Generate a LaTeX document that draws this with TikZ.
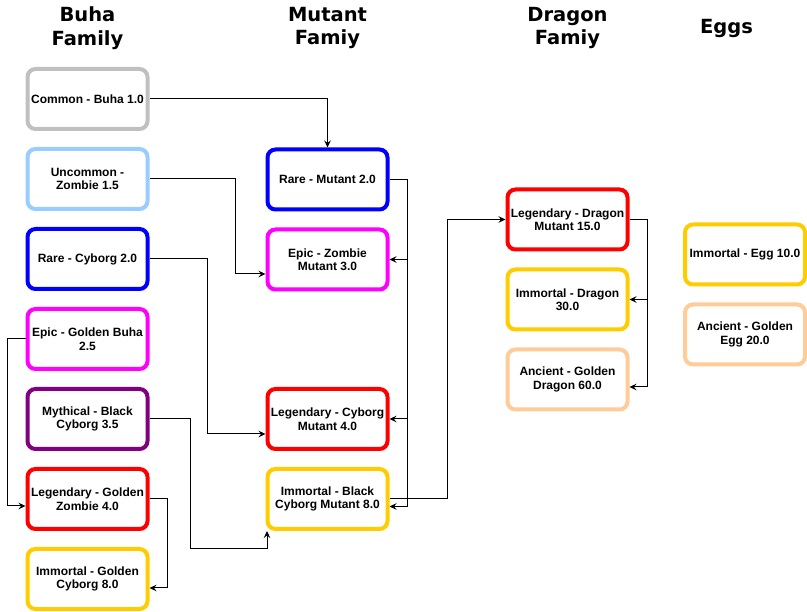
\documentclass[tikz,border=0pt]{standalone}
\usepackage{fontspec}
\setmainfont{Liberation Sans}
\newfontfamily\titlefont{DejaVu Sans}
\usetikzlibrary{arrows.meta,calc}
\definecolor{cgray}{HTML}{C0C0C0}
\definecolor{clblue}{HTML}{99CCFF}
\definecolor{cblue}{HTML}{0000FF}
\definecolor{cmag}{HTML}{FF00FF}
\definecolor{cpurp}{HTML}{800080}
\definecolor{cred}{HTML}{FF0000}
\definecolor{cgold}{HTML}{FFCC00}
\definecolor{cpeach}{HTML}{FFCC99}
\tikzset{
  card/.style={draw=#1, line width=4pt, rounded corners=8pt, fill=white,
    minimum width=120pt, minimum height=60pt, align=center, inner sep=1pt,
    font=\fontsize{12pt}{13.5pt}\selectfont\bfseries},
  ttl/.style={align=center, font=\titlefont\fontsize{19.5pt}{24pt}\selectfont\bfseries},
  arr/.style={draw=black, line width=1pt, -{Stealth[length=7pt,width=6.5pt,inset=2.5pt]}},
  plain/.style={draw=black, line width=1pt}
}
\begin{document}
\begin{tikzpicture}[x=1pt,y=-1pt]
\useasboundingbox (0,0) rectangle (807,612);
% titles
\node[ttl] (t1) at (87.5,28) {Buha\\Family};
\node[ttl] (t2) at (327.5,28) {Mutant\\Famiy};
\node[ttl] (t3) at (567.5,28) {Dragon\\Famiy};
\node[ttl] (t4) at (726.5,29) {Eggs};
% Buha family
\node[card=cgray] (common) at (87.5,99) {Common - Buha 1.0};
\node[card=clblue] (uncommon) at (87.5,179) {Uncommon -\\Zombie 1.5};
\node[card=cblue] (rarecy) at (87.5,259) {Rare - Cyborg 2.0};
\node[card=cmag] (epicbuha) at (87.5,339) {Epic - Golden Buha\\2.5};
\node[card=cpurp] (mythical) at (87.5,419) {Mythical - Black\\Cyborg 3.5};
\node[card=cred] (leggz) at (87.5,499) {Legendary - Golden\\Zombie 4.0};
\node[card=cgold] (immgc) at (87.5,579) {Immortal - Golden\\Cyborg 8.0};
% Mutant family
\node[card=cblue] (raremut) at (327.5,179.5) {Rare - Mutant 2.0};
\node[card=cmag] (epicmut) at (327.5,259.5) {Epic - Zombie\\Mutant 3.0};
\node[card=cred] (legmut) at (327.5,419) {Legendary - Cyborg\\Mutant 4.0};
\node[card=cgold] (immmut) at (327.5,499) {Immortal - Black\\Cyborg Mutant 8.0};
% Dragon family
\node[card=cred] (legdm) at (567.5,219.5) {Legendary - Dragon\\Mutant 15.0};
\node[card=cgold] (immdr) at (567.5,299.5) {Immortal - Dragon\\30.0};
\node[card=cpeach] (ancdr) at (567.5,379.5) {Ancient - Golden\\Dragon 60.0};
% Eggs
\node[card=cgold] (immegg) at (745,254.5) {Immortal - Egg 10.0};
\node[card=cpeach] (ancegg) at (745,334.5) {Ancient - Golden\\Egg 20.0};
% connectors
\draw[arr] (common.east) -| (raremut.north);
\draw[arr] (uncommon.east) -- ++(85.5,0) |- ($(epicmut.west)+(0,14.5)$);
\draw[arr] (rarecy.east) -- ++(57.5,0) |- ($(legmut.west)+(0,15)$);
\draw[arr] (epicbuha.west) -- ++(-18.5,0) |- ($(leggz.west)+(0,7)$);
\draw[arr] (mythical.east) -- ++(40.5,0) -- ++(0,130) -| ($(immmut.south west)+(1.5,0)$);
\draw[arr] (leggz.east) -- ++(17.5,0) |- ($(immgc.east)+(0,9)$);
% mutant bus
\draw[arr] (raremut.east) -| ($(immmut.east)+(17.5,7.5)$) -- ($(immmut.east)+(0,7.5)$);
\draw[arr] ($(raremut.east)+(17.5,0)$) |- (epicmut.east);
\draw[arr] ($(raremut.east)+(17.5,0)$) |- (legmut.east);
\draw[arr] (immmut.east) -- ++(57.5,0) |- (legdm.west);
% dragon bus
\draw[arr] (legdm.east) -- ++(17.5,0) |- (immdr.east);
\draw[arr] ($(legdm.east)+(17.5,0)$) |- ($(ancdr.east)+(0,7.5)$);
\end{tikzpicture}
\end{document}
